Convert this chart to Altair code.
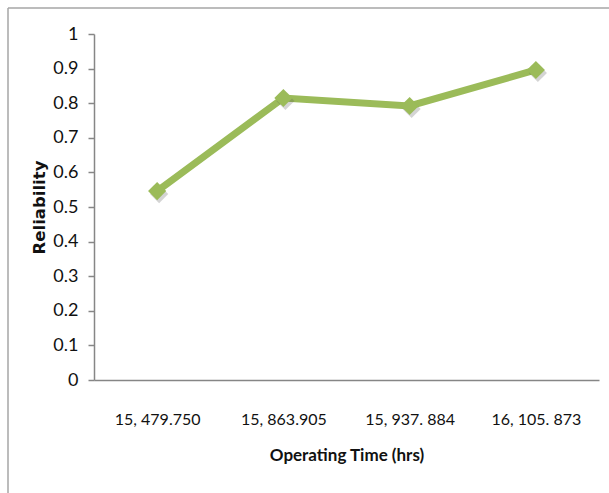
import altair as alt
import pandas as pd

# Operating time categories and the reliability measured at each
operating_time = ["15, 479.750", "15, 863.905", "15, 937. 884", "16, 105. 873"]
reliability = [0.546, 0.815, 0.792, 0.896]
y_ticks = [0, 0.1, 0.2, 0.3, 0.4, 0.5, 0.6, 0.7, 0.8, 0.9, 1]

df = pd.DataFrame({"time": operating_time, "rel": reliability})

FONT = "Lato"
GREEN = "#9bbb59"
AXIS_GRAY = "#868686"

x_enc = alt.X(
    "time:N",
    sort=operating_time,
    scale=alt.Scale(type="point", padding=0.5),
    axis=alt.Axis(
        title="Operating Time (hrs)",
        labelAngle=0,
        ticks=False,
        domainColor=AXIS_GRAY,
        domainWidth=1.5,
        labelPadding=31,
        labelFontSize=16,
        labelFont=FONT,
        labelColor="#111111",
        titleFont=FONT,
        titleFontSize=17,
        titleFontWeight="bold",
        titleColor="#111111",
        titlePadding=20,
    ),
)
y_enc = alt.Y(
    "rel:Q",
    scale=alt.Scale(domain=[0, 1], nice=False),
    axis=alt.Axis(
        title="Reliability",
        values=y_ticks,
        format="~g",
        grid=False,
        tickSize=6,
        tickColor=AXIS_GRAY,
        tickWidth=1.5,
        domainColor=AXIS_GRAY,
        domainWidth=1.5,
        labelPadding=10,
        labelFontSize=18,
        labelFont=FONT,
        labelColor="#111111",
        titleFont="DejaVu Sans",
        titleFontSize=16.5,
        titleFontWeight="bold",
        titleColor="#111111",
        titlePadding=5,
    ),
)

base = alt.Chart(df)

line = base.mark_line(color=GREEN, strokeWidth=7).encode(x=x_enc, y=y_enc)

# soft drop shadow under the diamond markers
shadow = base.mark_point(
    shape="diamond", size=330, filled=True, color="#555555", opacity=0.25,
    xOffset=2, yOffset=3,
).encode(x=x_enc, y=y_enc)

points = base.mark_point(
    shape="diamond", size=330, filled=True, color=GREEN, opacity=1
).encode(x=x_enc, y=y_enc)

# outer frame around the figure (left and top edges)
frame_src = alt.Chart(pd.DataFrame({"k": [0]}))
frame_left = frame_src.mark_rule(color="#a6a6a6", strokeWidth=1.5).encode(
    x=alt.value(-86), y=alt.value(-26), y2=alt.value(470)
)
frame_top = frame_src.mark_rule(color="#a6a6a6", strokeWidth=1.5).encode(
    x=alt.value(-86), x2=alt.value(520), y=alt.value(-26)
)

chart = (
    alt.layer(frame_left, frame_top, line, shadow, points)
    .properties(
        width=505,
        height=346,
        autosize=alt.AutoSizeParams(type="none"),
        padding={"left": 94, "top": 34, "right": 10, "bottom": 113},
        background="white",
    )
    .configure_view(stroke=None)
)

chart.save("out.html", embed_options={"renderer": "svg", "actions": False})
